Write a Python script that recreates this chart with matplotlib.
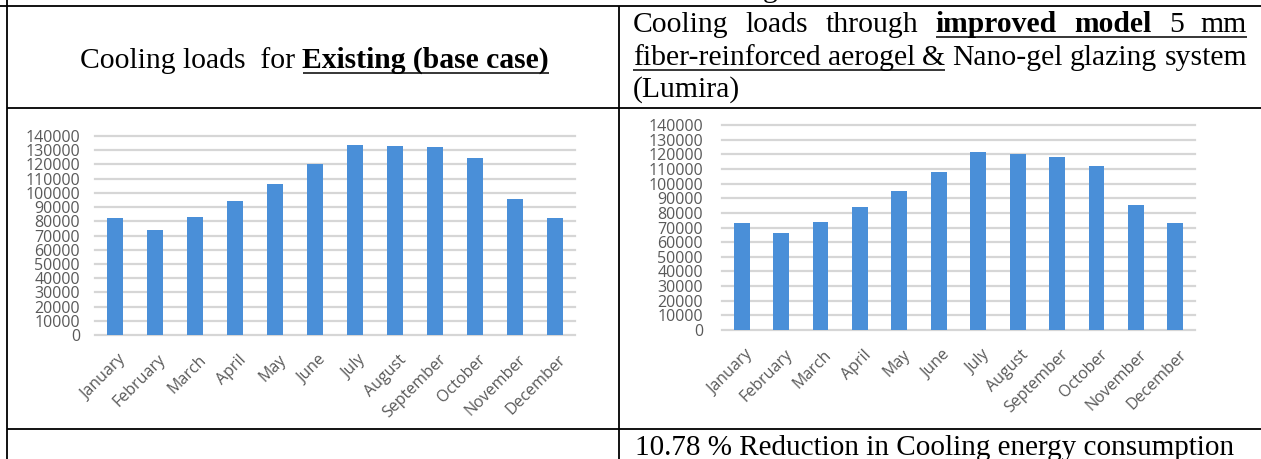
import matplotlib
matplotlib.use("Agg")
import matplotlib.pyplot as plt
from matplotlib.transforms import ScaledTranslation

# ---------------- data ----------------
months = ["January", "February", "March", "April", "May", "June", "July",
          "August", "September", "October", "November", "December"]
existing = [82000, 74000, 83000, 94000, 106000, 120300, 133700,
            133000, 132500, 124500, 95700, 82000]
improved = [73000, 66500, 74000, 84000, 95000, 107700, 121300,
            120400, 117900, 112000, 85100, 72800]
yticks = list(range(0, 140001, 10000))
ytick_labels = [str(v) for v in yticks]

left_title = [("Cooling loads  for", False, False),
              ("Existing (base case)", True, True)]
right_title_lines = [
    [("Cooling", False, False), ("loads", False, False), ("through", False, False),
     ("improved", True, True), ("model", True, True), ("5", False, True), ("mm", False, True)],
    [("fiber-reinforced", False, True), ("aerogel", False, True), ("&", False, True),
     ("Nano-gel", False, False), ("glazing", False, False), ("system", False, False)],
    [("(Lumira)", False, False)],
]
result_text = "10.78 % Reduction in Cooling energy consumption"

# ---------------- figure ----------------
W, H = 1261, 459
fig = plt.figure(figsize=(W / 100, H / 100), dpi=100)
bg = fig.add_axes([0, 0, 1, 1])
bg.set_xlim(0, W)
bg.set_ylim(H, 0)
bg.axis("off")

SERIF = ["Liberation Serif", "DejaVu Serif"]
SANS = ["Open Sans", "DejaVu Sans"]
FS = 21.3
LW = 1.3

# table grid
for y, x0 in [(5.5, 0), (108, 7), (429, 7)]:
    bg.plot([x0, W], [y, y], color="black", lw=LW, solid_capstyle="butt")
bg.plot([7, 7], [0, H], color="black", lw=LW, solid_capstyle="butt")
bg.plot([619, 619], [5.5, H], color="black", lw=LW, solid_capstyle="butt")

# clipped caption fragment above the table
bg.text(763, -3, "g", fontsize=FS, family=SERIF, va="baseline", ha="left")

renderer = fig.canvas.get_renderer()


def draw_line(segments, x0, y, x1=None):
    texts = []
    for s, bold, ul in segments:
        t = bg.text(0, y, s, fontsize=FS, family=SERIF,
                    weight="bold" if bold else "normal",
                    va="baseline", ha="left")
        texts.append(t)
    widths = [t.get_window_extent(renderer).width for t in texts]
    sp_t = bg.text(0, 0, "a a", fontsize=FS, family=SERIF)
    sp_t2 = bg.text(0, 0, "aa", fontsize=FS, family=SERIF)
    space = sp_t.get_window_extent(renderer).width - sp_t2.get_window_extent(renderer).width
    sp_t.remove()
    sp_t2.remove()
    n = len(texts)
    if x1 is not None and n > 1:
        gap = (x1 - x0 - sum(widths)) / (n - 1)
    else:
        gap = space
    x = x0
    starts = []
    for t, w in zip(texts, widths):
        t.set_x(x)
        starts.append(x)
        x += w + gap
    # underline runs
    i = 0
    while i < n:
        if segments[i][2]:
            j = i
            while j + 1 < n and segments[j + 1][2]:
                j += 1
            ux0 = starts[i]
            ux1 = starts[j] + widths[j]
            bg.plot([ux0, ux1], [y + 5, y + 5], color="black", lw=1.1,
                    solid_capstyle="butt")
            i = j + 1
        else:
            i += 1


draw_line(left_title, 80, 68)
draw_line(right_title_lines[0], 633, 32, 1247)
draw_line(right_title_lines[1], 633, 65, 1247)
draw_line(right_title_lines[2], 633, 97)
bg.text(635, 455, result_text, fontsize=21, family=SERIF, va="baseline", ha="left")


# ---------------- charts ----------------
def px_axes(l, t, r, b):
    return fig.add_axes([l / W, 1 - b / H, (r - l) / W, (b - t) / H])


BAR = "#4a8fd8"
GRID = "#d6d6d6"
TXT = "#595959"


def chart(ax, values, ypad):
    x = list(range(len(months)))
    ax.bar(x, values, width=0.4, color=BAR, zorder=2)
    ax.set_xlim(-0.5, len(months) - 0.5)
    ax.set_ylim(0, 140000)
    ax.set_yticks(yticks)
    ax.set_yticklabels(ytick_labels, family=SANS, fontsize=11.5, color=TXT)
    ax.set_xticks(x)
    ax.set_xticklabels(months, family=SANS, fontsize=11.5, color=TXT,
                       rotation=45, ha="right", va="top", rotation_mode="anchor")
    ax.tick_params(axis="both", length=0)
    ax.tick_params(axis="y", pad=ypad)
    ax.tick_params(axis="x", pad=12)
    off = ScaledTranslation(3 / 100, 0, fig.dpi_scale_trans)
    for lab in ax.get_xticklabels():
        lab.set_transform(lab.get_transform() + off)
    for s in ax.spines.values():
        s.set_visible(False)
    ax.set_axisbelow(True)
    ax.yaxis.grid(True, color=GRID, lw=1.6)
    for tk in ax.yaxis.get_major_ticks():
        tk.gridline.set_clip_on(False)
    ax.patch.set_alpha(0)


ax1 = px_axes(95, 136, 575, 335)
chart(ax1, existing, 10.8)
ax2 = px_axes(722, 125, 1195, 330)
chart(ax2, improved, 13.7)

fig.savefig("out.png", dpi=100)
